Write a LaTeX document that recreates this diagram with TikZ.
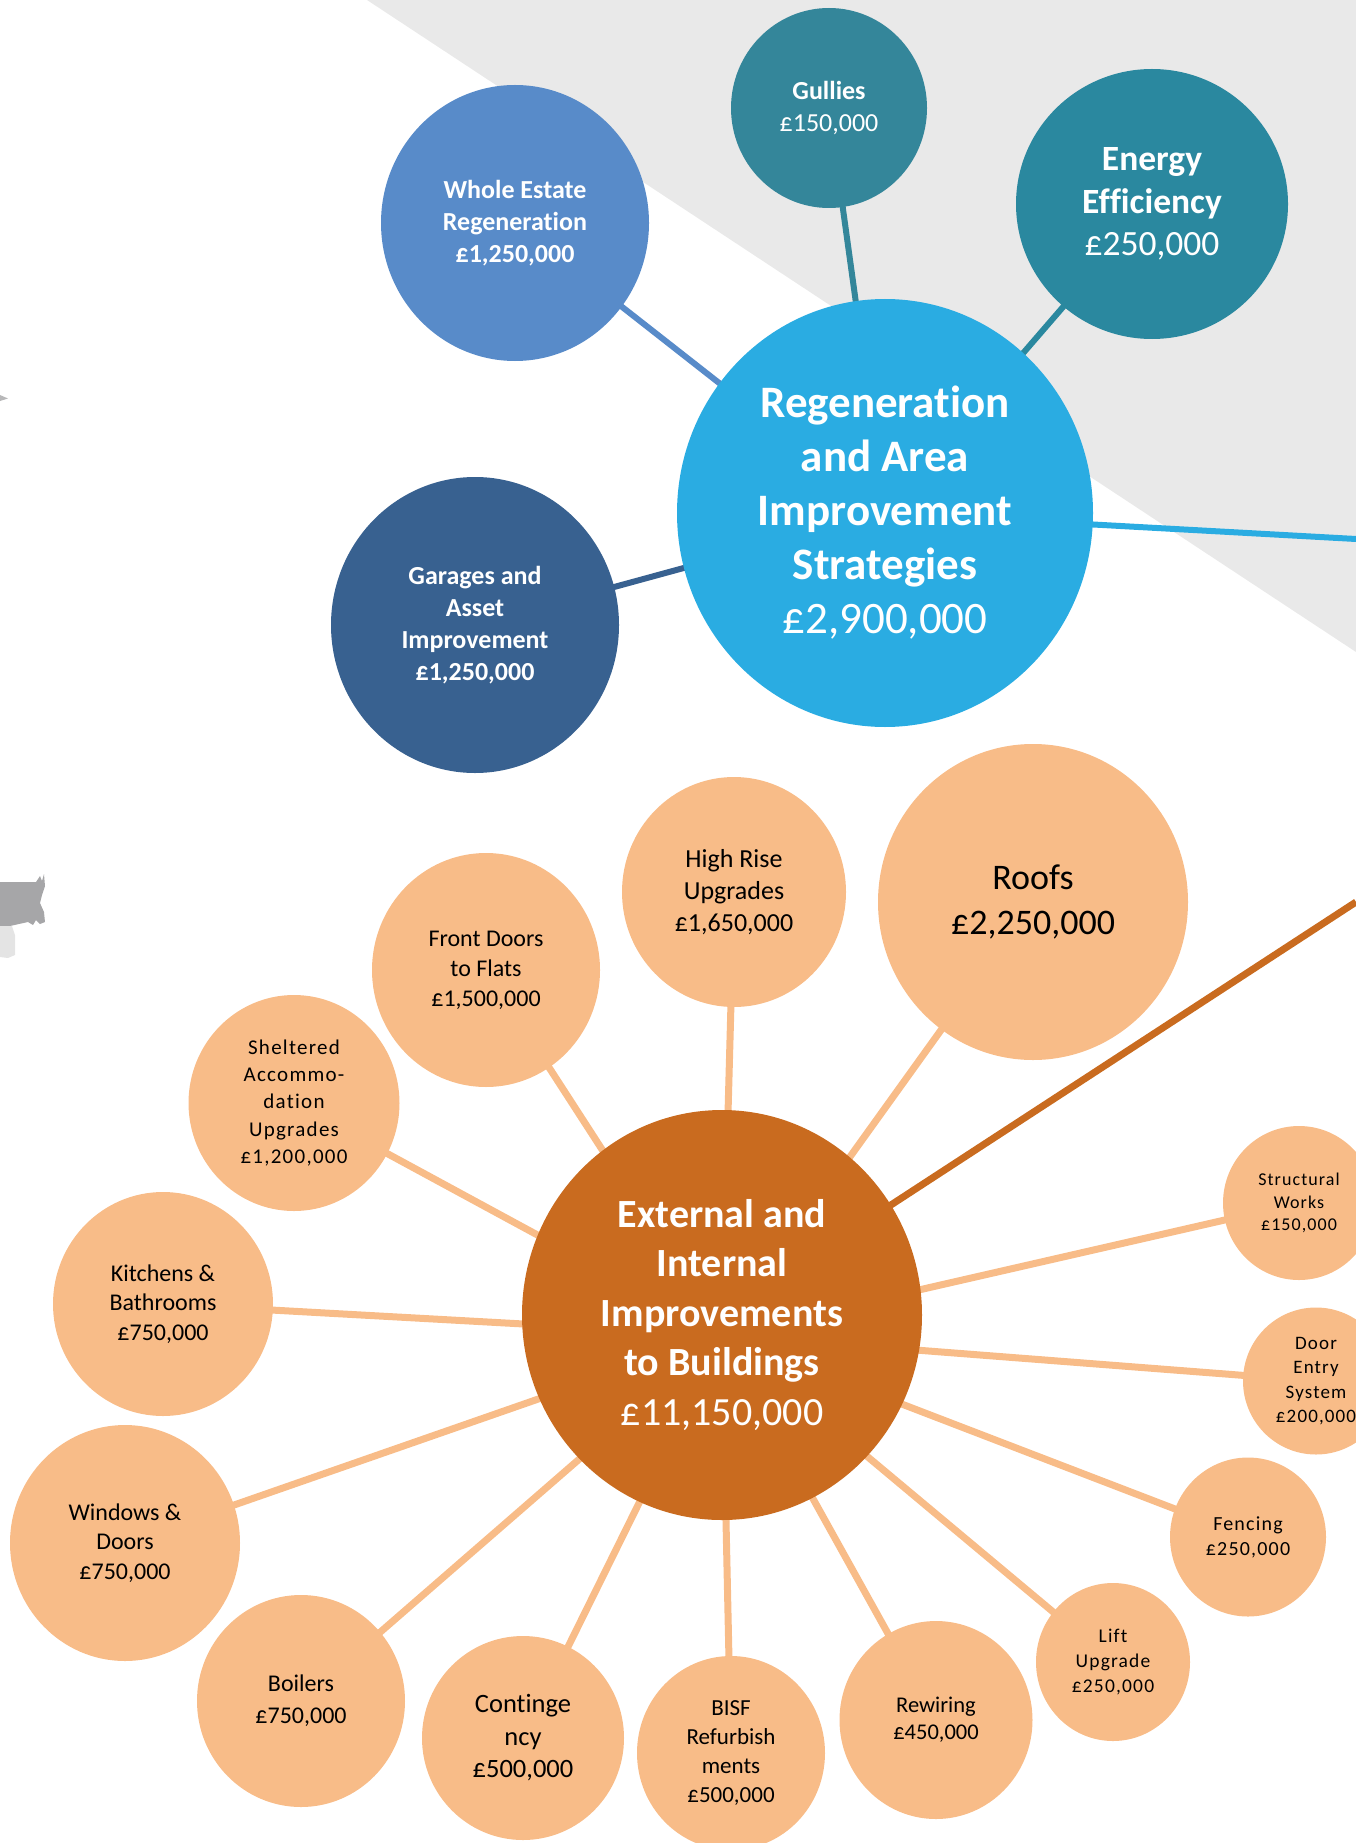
\documentclass[tikz,border=0pt]{standalone}
\usepackage{fontspec}
\setmainfont{Carlito}[Ligatures={NoCommon}]
\newfontfamily\spaced{Carlito}[LetterSpace=6,Ligatures={NoCommon}]
\usetikzlibrary{shapes.geometric}
\newcommand\setfs[2]{\fontsize{#1}{#2}\selectfont}

\definecolor{bggray}{HTML}{E9E9E9}
\definecolor{mapgray}{HTML}{A6A6A8}
\definecolor{mapgraylt}{HTML}{E4E4E4}
\definecolor{wholeblue}{HTML}{588BC9}
\definecolor{tealA}{HTML}{34869A}
\definecolor{tealB}{HTML}{2A889F}
\definecolor{navy}{HTML}{386190}
\definecolor{skyblue}{HTML}{2AACE2}
\definecolor{peach}{HTML}{F8BC88}
\definecolor{rust}{HTML}{C96B1F}

\pgfdeclarelayer{ground}
\pgfdeclarelayer{links}
\pgfsetlayers{ground,links,main}

\begin{document}
\begin{tikzpicture}[x=1pt,y=-1pt,
  bubble/.style={ellipse, inner sep=0pt, outer sep=0pt, align=center},
  topbub/.style={bubble, text=white},
  subbub/.style={bubble, fill=peach, text=black},
  bluelink/.style={line width=6pt},
  peachlink/.style={draw=peach, line width=7pt},
]
\useasboundingbox (0,0) rectangle (1356,1843);
\clip (0,0) rectangle (1356,1843);

\begin{pgfonlayer}{ground}
% grey diagonal band behind the upper group
\fill[bggray] (367,0) -- (1356,0) -- (1356,652) -- cycle;
% fragments of a map along the left edge
\fill[mapgray] (0,882) -- (36,882) -- (40,876) -- (42,881) -- (44,874) -- (45,886)
  -- (42,895) -- (40,903) -- (44,912) -- (45,922) -- (40,924) -- (36,920)
  -- (33,925) -- (28,922) -- (10,926) -- (0,926) -- cycle;
\fill[mapgraylt] (0,926) -- (12,926) -- (15,935) -- (15,955) -- (8,958) -- (0,957) -- cycle;
\fill[mapgray!80] (0,395) -- (8,398.5) -- (0,401) -- cycle;
\end{pgfonlayer}

% ---------- upper group: regeneration ----------
\coordinate (regout) at (1356,539);
\node[topbub, fill=skyblue, minimum width=416pt, minimum height=428pt,
      font=\setfs{45}{54}] (reg) at (885,513)
  {\bfseries Regeneration\\\bfseries and Area\\\bfseries Improvement\\\bfseries Strategies\\£2,900,000};

\node[topbub, fill=wholeblue, minimum width=268pt, minimum height=276pt,
      font=\setfs{26}{32}\bfseries] (whole) at (515,223)
  {Whole Estate\\Regeneration\\£1,250,000};
\node[topbub, fill=tealA, minimum width=196pt, minimum height=200pt,
      font=\setfs{26}{32}] (gull) at (829,108)
  {\bfseries Gullies\\£150,000};
\node[topbub, fill=tealB, minimum width=272pt, minimum height=270pt,
      font=\setfs{35.5}{42.5}] (energy) at (1152,204)
  {\bfseries Energy\\\bfseries Efficiency\\£250,000};
\node[topbub, fill=navy, minimum width=288pt, minimum height=296pt,
      font=\setfs{26}{32}\bfseries] (garage) at (475,625)
  {Garages and\\Asset\\Improvement\\£1,250,000};

% ---------- lower group: buildings ----------
\coordinate (extout) at (1356,902);
\coordinate (hub) at (722,1335);
\node[bubble, fill=rust, text=white, minimum width=400pt, minimum height=410pt,
      font=\setfs{40}{49.5}] (ext) at (722,1315)
  {\bfseries External and\\\bfseries Internal\\\bfseries Improvements\\\bfseries to Buildings\\£11,150,000};

\node[subbub, minimum width=310pt, minimum height=316pt, font=\setfs{36}{45}] (roofs) at (1033,902)
  {Roofs\\£2,250,000};
\node[subbub, minimum width=224pt, minimum height=230pt, font=\setfs{26}{32}] (high) at (734,892)
  {High Rise\\Upgrades\\£1,650,000};
\node[subbub, minimum width=228pt, minimum height=234pt, font=\setfs{24}{30}] (front) at (486,970)
  {Front Doors\\to Flats\\£1,500,000};
\node[subbub, minimum width=211pt, minimum height=216pt, font=\setfs{21}{27.4}\spaced] (shelt) at (294,1103)
  {Sheltered\\Accommo-\\dation\\Upgrades\\£1,200,000};
\node[subbub, minimum width=220pt, minimum height=224pt, font=\setfs{24}{29.4}] (kitch) at (163,1304)
  {Kitchens \&\\Bathrooms\\£750,000};
\node[subbub, minimum width=230pt, minimum height=236pt, font=\setfs{24}{29.4}] (wind) at (125,1543)
  {Windows \&\\Doors\\£750,000};
\node[subbub, minimum width=208pt, minimum height=212pt, font=\setfs{24}{32}] (boil) at (301,1701)
  {Boilers\\£750,000};
\node[subbub, minimum width=202pt, minimum height=204pt, font=\setfs{26.5}{32.5}] (cont) at (523,1738)
  {Continge\\ncy\\£500,000};
\node[subbub, minimum width=188pt, minimum height=194pt, font=\setfs{23}{29}] (bisf) at (731,1753)
  {BISF\\Refurbish\\ments\\£500,000};
\node[subbub, minimum width=193pt, minimum height=198pt, font=\setfs{22.5}{27}] (rewire) at (936,1720)
  {Rewiring\\£450,000};
\node[subbub, minimum width=154pt, minimum height=158pt, font=\setfs{19.5}{25}\spaced] (lift) at (1113,1662)
  {Lift\\Upgrade\\£250,000};
\node[subbub, minimum width=156pt, minimum height=159pt, font=\setfs{20}{25}\spaced] (fence) at (1248,1537)
  {Fencing\\£250,000};
\node[subbub, minimum width=146pt, minimum height=147pt, font=\setfs{19}{24.3}\spaced] (door) at (1316,1381)
  {Door\\Entry\\System\\£200,000};
\node[subbub, minimum width=152pt, minimum height=154pt, font=\setfs{18}{22.3}\spaced] (struct) at (1299,1203)
  {Structural\\Works\\£150,000};

% ---------- connectors, kept behind the bubbles ----------
\begin{pgfonlayer}{links}
\draw[bluelink, wholeblue] (whole.center) -- (reg.center);
\draw[bluelink, tealA] (gull.center) -- (reg.center);
\draw[bluelink, tealB] (energy.center) -- (reg.center);
\draw[bluelink, navy] (garage.center) -- (reg.center);
\draw[bluelink, skyblue] (reg.center) -- (regout);

\draw[rust, line width=7pt] (ext.center) -- (extout);
\foreach \n in {roofs,high,front,shelt,kitch,wind,boil,cont,bisf,rewire,lift,fence,door,struct}
  \draw[peachlink] (hub) -- (\n.center);
\end{pgfonlayer}
\end{tikzpicture}
\end{document}
